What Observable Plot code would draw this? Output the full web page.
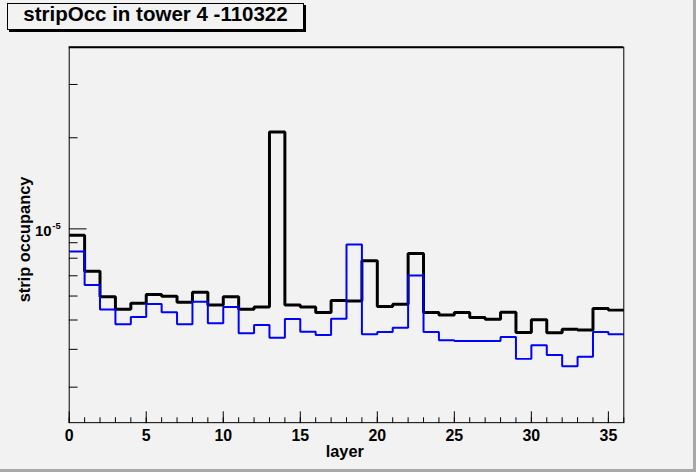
<!DOCTYPE html>
<html>
<head>
<meta charset="utf-8">
<script src="https://cdn.jsdelivr.net/npm/d3@7"></script>
<script src="https://cdn.jsdelivr.net/npm/@observablehq/plot@0.6"></script>
<style>
  html, body { margin: 0; padding: 0; background: #f2f2f2; }
  #canvas {
    position: relative; width: 696px; height: 472px; box-sizing: border-box;
    background: #f2f2f2; border-right: 3px solid #a8a8a8; border-bottom: 3px solid #a8a8a8;
    font-family: "Liberation Sans", Arial, Helvetica, sans-serif; overflow: hidden;
  }
  #title {
    position: absolute; left: 7px; top: 3px; width: 297px; height: 27px; box-sizing: border-box;
    border: 1px solid #000; box-shadow: 2px 2px 0 #000; background: #f2f2f2;
  }
  #title span {
    position: absolute; left: 0; right: 0; top: 0px; text-align: center;
    font-weight: bold; font-size: 20.5px; line-height: 20.5px; color: #000; white-space: nowrap;
  }
  #plot { position: absolute; left: 0; top: 0; }
  #plot svg { background: transparent; overflow: visible; }
</style>
</head>
<body>
<div id="canvas">
  <div id="plot"></div>
  <div id="title"><span>stripOcc in tower 4 -110322</span></div>
</div>
<script>
// ---- data ----
const layers = d3.range(36); // bin low edges, bins are 1 layer wide
const blackOcc = [9.53e-6, 7.25e-6, 5.97e-6, 5.43e-6, 5.68e-6, 6.07e-6, 5.99e-6, 5.72e-6, 6.17e-6, 5.60e-6,
                  5.97e-6, 5.43e-6, 5.52e-6, 2.09e-5, 5.60e-6, 5.52e-6, 5.29e-6, 5.80e-6, 5.78e-6, 7.85e-6,
                  5.54e-6, 5.64e-6, 8.29e-6, 5.29e-6, 5.19e-6, 5.29e-6, 5.10e-6, 5.03e-6, 5.30e-6, 4.55e-6,
                  5.01e-6, 4.54e-6, 4.66e-6, 4.63e-6, 5.46e-6, 5.39e-6];
const blueOcc  = [8.42e-6, 6.52e-6, 5.42e-6, 4.84e-6, 5.12e-6, 5.65e-6, 5.30e-6, 4.84e-6, 5.74e-6, 4.88e-6,
                  5.52e-6, 4.52e-6, 4.81e-6, 4.37e-6, 5.04e-6, 4.57e-6, 4.46e-6, 5.05e-6, 8.88e-6, 4.49e-6,
                  4.56e-6, 4.71e-6, 7.02e-6, 4.56e-6, 4.29e-6, 4.26e-6, 4.26e-6, 4.26e-6, 4.39e-6, 3.72e-6,
                  4.13e-6, 3.83e-6, 3.52e-6, 3.78e-6, 4.56e-6, 4.49e-6];
const xDomain = [0, 36];
const yDomain = [2.29e-6, 3.98e-5];
const xMajorTicks = [0, 5, 10, 15, 20, 25, 30, 35];
const xMinorTicks = d3.range(0, 37);
const yMajorTicks = [1e-5];
const yMinorTicks = [3e-6, 4e-6, 5e-6, 6e-6, 7e-6, 8e-6, 9e-6, 2e-5, 3e-5];
const xLabel = "layer";
const yLabel = "strip occupancy";

// step histogram points (step-after needs the closing edge)
function steps(vals) {
  const pts = layers.map((x, i) => ({x, y: vals[i]}));
  pts.push({x: xDomain[1], y: vals[vals.length - 1]});
  return pts;
}

const tickRight = {draw(ctx, l) { ctx.moveTo(0, 0); ctx.lineTo(l, 0); }};
const tickUp = {draw(ctx, l) { ctx.moveTo(0, 0); ctx.lineTo(0, -l); }};
const font = "Liberation Sans, Arial, Helvetica, sans-serif";

const chart = Plot.plot({
  width: 696,
  height: 472,
  marginLeft: 69,
  marginRight: 70,
  marginTop: 47,
  marginBottom: 48,
  style: {background: "transparent", fontFamily: font},
  x: {domain: xDomain, axis: null},
  y: {type: "log", domain: yDomain, axis: null},
  marks: [
    Plot.line(steps(blackOcc), {x: "x", y: "y", curve: "step-after", stroke: "#000", strokeWidth: 3,
      strokeLinejoin: "miter", strokeLinecap: "butt"}),
    Plot.line(steps(blueOcc), {x: "x", y: "y", curve: "step-after", stroke: "#0000ff", strokeWidth: 2,
      strokeLinejoin: "miter", strokeLinecap: "butt"}),
    Plot.frame({stroke: "#000", strokeWidth: 1}),
    Plot.ruleY([yDomain[1]], {stroke: "#000", strokeWidth: 2}),
    // y ticks (inward)
    Plot.vector(yMinorTicks, {y: d => d, frameAnchor: "left", length: 8, anchor: "start", shape: tickRight, stroke: "#000", strokeWidth: 1}),
    Plot.vector(yMajorTicks, {y: d => d, frameAnchor: "left", length: 17, anchor: "start", shape: tickRight, stroke: "#000", strokeWidth: 1}),
    // x ticks (inward)
    Plot.vector(xMinorTicks, {x: d => d, frameAnchor: "bottom", length: 5, anchor: "start", shape: tickUp, stroke: "#000", strokeWidth: 1}),
    Plot.vector(xMajorTicks, {x: d => d, frameAnchor: "bottom", length: 11, anchor: "start", shape: tickUp, stroke: "#000", strokeWidth: 1}),
    // x tick labels
    Plot.text(xMajorTicks, {x: d => d, frameAnchor: "bottom", text: d => String(d), textAnchor: "middle", lineAnchor: "bottom",
      dy: 18.3, fontSize: 16, fontWeight: "bold", fill: "#000"}),
    // y tick labels: 10^-5
    Plot.text(yMajorTicks, {y: d => d, frameAnchor: "left", text: d => "10", textAnchor: "end", lineAnchor: "bottom",
      dx: -17.6, dy: 7.4, fontSize: 15, fontWeight: "bold", fill: "#000"}),
    Plot.text(yMajorTicks, {y: d => d, frameAnchor: "left", text: d => String(Math.round(Math.log10(d))), textAnchor: "start", lineAnchor: "bottom",
      dx: -17, dy: 0, fontSize: 9.5, fontWeight: "bold", fill: "#000"}),
    // axis titles
    Plot.text([xLabel], {frameAnchor: "bottom", text: d => d, textAnchor: "middle", lineAnchor: "bottom", dx: -1.7, dy: 34,
      fontSize: 16.4, fontWeight: "bold", fill: "#000"}),
    Plot.text([yLabel], {frameAnchor: "left", text: d => d, rotate: -90, textAnchor: "middle", lineAnchor: "bottom", dx: -39.5, dy: 4.5,
      fontSize: 16.5, fontWeight: "bold", fill: "#000"})
  ]
});
document.getElementById("plot").appendChild(chart);
</script>
</body>
</html>
